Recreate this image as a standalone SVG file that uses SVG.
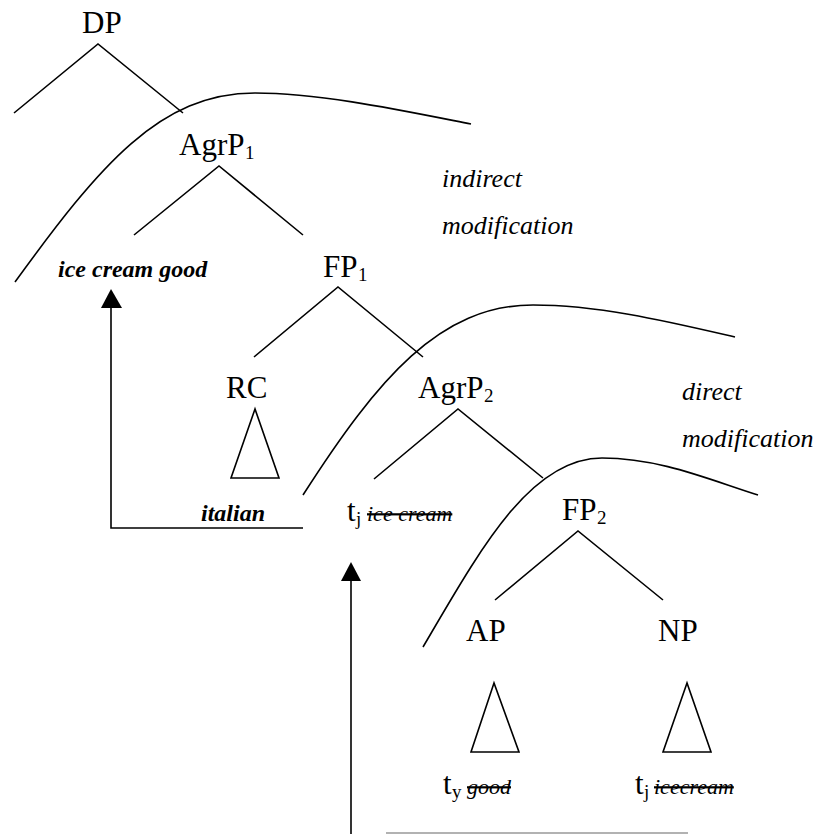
<svg xmlns="http://www.w3.org/2000/svg" width="819" height="834" viewBox="0 0 819 834">
<style>
.bg{fill:#fff}
.ln{stroke:#000;stroke-width:1.6;fill:none;stroke-linecap:butt}
.tri{stroke:#000;stroke-width:1.6;fill:#fff;stroke-linejoin:miter}
.lbl{font-family:"Liberation Serif","Times New Roman",serif;font-size:31px;fill:#000}
.sub{font-family:"Liberation Serif","Times New Roman",serif;font-size:19px;fill:#000}
.note{font-family:"Liberation Serif","Times New Roman",serif;font-size:26px;font-style:italic;fill:#000}
.bi{font-family:"Liberation Serif","Times New Roman",serif;font-size:24px;font-style:italic;font-weight:bold;fill:#000}
.del{font-family:"Liberation Serif","Times New Roman",serif;font-size:22px;font-style:italic;fill:#000;text-decoration:line-through}
</style>
<rect class="bg" x="0" y="0" width="819" height="834"/>

<g id="scopes">
<path class="ln" d="M15,282 C100,165 160,93 255,93 C320,93 400,110 471,124"/>
<path class="ln" d="M303,495 C378,378 440,305 533,305 C600,305 670,322 735,337"/>
<path class="ln" d="M423,647 C480,550 530,458 602,458 C660,458 710,480 758,495"/>
</g>

<g id="connectors">
<path class="ln" d="M14,113 L98,44 L183,113"/>
<path class="ln" d="M134,235 L219,166 L303,235"/>
<path class="ln" d="M254,357 L338,287 L423,357"/>
<path class="ln" d="M374,479 L458,409 L543,478"/>
<path class="ln" d="M495,600 L578,531 L663,600"/>
<path class="ln" d="M303,528 L111,528 L111,308"/>
<polygon points="111,289 101,308 122,308" fill="#000"/>
<path class="ln" d="M351,834 L351,581"/>
<polygon points="351,562 341,581 361,581" fill="#000"/>
<line x1="386" y1="833" x2="688" y2="833" stroke="#999" stroke-width="1.6"/>
</g>

<g id="node-DP"><text class="lbl" x="82" y="33">DP</text></g>
<g id="node-AgrP1"><text class="lbl" x="179" y="155">AgrP</text><text class="sub" x="245" y="159">1</text></g>
<g id="node-FP1"><text class="lbl" x="323" y="277">FP</text><text class="sub" x="358" y="281">1</text></g>
<g id="node-RC"><text class="lbl" x="226" y="398">RC</text>
<polygon class="tri" points="255,409 231,478 279,478"/></g>
<g id="node-AgrP2"><text class="lbl" x="418" y="398">AgrP</text><text class="sub" x="484" y="402">2</text></g>
<g id="node-FP2"><text class="lbl" x="562" y="520">FP</text><text class="sub" x="597" y="524">2</text></g>
<g id="node-AP"><text class="lbl" x="466" y="641">AP</text>
<polygon class="tri" points="494,683 471,752 519,752"/></g>
<g id="node-NP"><text class="lbl" x="658" y="641">NP</text>
<polygon class="tri" points="687,683 663,752 711,752"/></g>

<g id="node-icecreamgood"><text class="bi" x="58" y="277">ice cream good</text></g>
<g id="node-italian"><text class="bi" x="201" y="521">italian</text></g>
<g id="node-tj-icecream"><text class="lbl" x="347" y="521">t</text><text class="sub" x="356" y="525">j</text><text class="del" x="367" y="521">ice cream</text></g>
<g id="node-ty-good"><text class="lbl" x="443" y="794">t</text><text class="sub" x="452" y="798">y</text><text class="del" x="467" y="794">good</text></g>
<g id="node-tj-icecream2"><text class="lbl" x="635" y="794">t</text><text class="sub" x="644" y="798">j</text><text class="del" x="654" y="794">icecream</text></g>

<g id="label-indirect"><text class="note" x="442" y="187">indirect</text><text class="note" x="442" y="234">modification</text></g>
<g id="label-direct"><text class="note" x="682" y="400">direct</text><text class="note" x="682" y="447">modification</text></g>
</svg>
